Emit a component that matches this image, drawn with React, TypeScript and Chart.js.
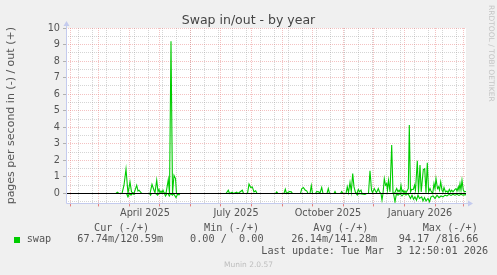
import React, { useEffect, useRef } from 'react';
import { Chart, registerables } from 'chart.js';

Chart.register(...registerables);

// x values are days counted from 1 Feb 2025 (00:00); the graph spans the last 400 days
const X_MIN = -4.5;
const X_MAX = 395.5;
const Y_MIN = -0.6;
const Y_MAX = 10;

// swap out (+), pages per second
const outDays = [
  -4.5, 45.5, 46.8, 48.5, 51.5, 53.5, 55.5, 57.5, 59.5, 61, 63.5, 66.2, 67.5, 68.5, 70.5, 71.5,
  79.5, 81.5, 83.5, 84.5, 86.2, 87.5, 88.5, 89.5, 90.5, 91.5, 92.5, 93.5, 95.5, 97.8, 99, 100.5,
  102, 103.5, 105, 106, 155.5, 157.8, 159, 161.8, 163, 166.2, 167.5, 171.8, 173, 177, 178.5,
  180.2, 181.8, 183.5, 185.2, 186.5, 205, 206.2, 207.5, 213.5, 214.8, 216, 218.8, 220.8, 222,
  230, 231.2, 232.8, 234.8, 236.2, 237.5, 239.5, 240.8, 242, 245, 246.2, 248.2, 249.5, 251.2,
  252.5, 256.5, 257.8, 259, 263.5, 264.5, 265.5, 270, 271.2, 272.5, 275.5, 276.8, 278, 279.5,
  280.8, 282.2, 283.5, 285, 286.5, 287.8, 289, 290.5, 291.5, 298, 299.5, 301, 302, 303.8, 305,
  306, 307.8, 309, 310.5, 312.5, 313.8, 315, 316.2, 317, 318, 319.5, 321.2, 322.5, 324, 326.2,
  327.5, 328.5, 329.5, 330.5, 331.5, 332.5, 333.5, 334.5, 335.5, 337.8, 338.8, 340, 341.2,
  342.8, 344, 345, 346.8, 348, 349.5, 350.7, 352.8, 354.2, 355.5, 356.8, 358.1, 359.5, 360.5,
  362.2, 363.5, 364.5, 365.5, 367, 368, 369, 370.2, 371.5, 372.5, 373.5, 375, 376.5, 377.5,
  378.8, 380, 381.2, 382.5, 384.5, 385.5, 386.5, 387.8, 388.5, 389.5, 390.5, 391.5, 392.8, 394,
  395.5,
];
const outValues = [
  0, 0, 0.08, 0, 0, 0.5, 1.47, 0, 0.7, 0.1, 0, 0.5, 0.15, 0.2, 0.05, 0,
  0, 0.55, 0.2, 0.05, 0.8, 0.1, 0.25, 0.05, 0.15, 0.05, 0.2, 0.05, 0, 0.85, 0, 9.2,
  0, 1.1, 0.9, 0, 0, 0.2, 0, 0.08, 0, 0.08, 0, 0.2, 0, 0, 0.57,
  0.36, 0.4, 0.1, 0.16, 0, 0, 0.1, 0, 0, 0.26, 0, 0.12, 0.1, 0,
  0, 0.28, 0.36, 0.2, 0.16, 0, 0, 0.48, 0, 0, 0.12, 0.1, 0.02, 0.36,
  0, 0, 0.3, 0, 0, 0.12, 0, 0, 0.12, 0, 0, 0.4, 0.05, 0.67,
  0.1, 1.2, 0.4, 0.05, 0, 0.24, 0.1, 0.2, 0, 0, 1.37, 0.2, 0.05, 0.3, 0.15,
  0.05, 0.3, 0.1, 0, 0, 0.9, 0.5, 0.6, 0.2, 0.8, 0.1, 2.93, 0.05, 0, 0.3,
  0.1, 0.2, 0.1, 0.5, 0.1, 0.2, 0.05, 0.15, 0.05, 0.3, 4.14, 0.1, 0.25,
  0.24, 0.5, 0.2, 1.98, 0.05, 1.72, 0.1, 1.45, 1.5, 0.05, 1.86, 0.1, 0.3, 0.15,
  0, 0.6, 0.3, 0.9, 0.3, 0.4, 0.2, 0.7, 0.2, 0.1, 0.36, 0.1, 0.15, 0.05,
  0.25, 0.1, 0.2, 0.1, 0.25, 0.3, 0.15, 0.4, 0.2, 0.6, 0.2, 0.8, 0.2, 0.1,
  0.12,
];

// swap in (-), pages per second, drawn below zero
const inDays = [
  -4.5, 56, 57.5, 59, 60.5, 62, 63.5, 64.5, 79, 80, 81, 85.5, 87, 88.5, 94, 95, 96.5, 97.5,
  98.8, 100, 102, 103, 105.5, 107, 108.5, 109.5, 285.5, 286.8, 288, 294.5, 296, 310.5, 311.5,
  312.5, 323, 324.5, 326, 327.5, 329.5, 331.5, 333.5, 335.5, 337.5, 340, 341.5, 343, 344.5,
  346, 347.5, 349, 351.2, 352.5, 354, 355.5, 357.5, 359, 360.5, 362.5, 364.5, 366.5, 368.5,
  370.5, 372.5, 374.5, 376.5, 378.5, 380.5, 382.5, 384.5, 386.5, 388.5, 390.5, 392.5, 395.5,
];
const inValues = [
  0, 0, -0.2, 0, -0.1, 0, -0.05, 0, 0, -0.1, 0, 0, -0.1, 0, 0, -0.15, 0, 0,
  -0.15, 0, -0.1, 0, -0.25, -0.05, -0.08, 0, 0, -0.1, 0, -0.05, 0, 0, -0.4,
  0, 0, -0.5, 0, -0.1, 0, -0.15, 0, -0.1, 0, -0.3, -0.1, -0.35, -0.2,
  -0.4, -0.1, -0.3, -0.2, -0.45, -0.25, -0.45, -0.3, -0.5, -0.2, -0.15, -0.3, -0.1, -0.25,
  -0.15, -0.2, -0.1, -0.15, -0.05, -0.12, -0.05, -0.1, -0.05, -0.12, -0.05, -0.1, -0.07,
];

// axis ticks
const monthStartDays = [0, 28, 59, 89, 120, 150, 181, 212, 242, 273, 303, 334, 365, 393];
const minorGridDays = [
  7.5, 21.5, 35.5, 49.5, 63.5, 77.5, 91.5, 105.5, 119.5, 133.5, 147.5, 161.5, 175.5, 189.5,
  203.5, 217.5, 231.5, 245.5, 259.5, 273.5, 287.5, 301.5, 315.5, 329.5, 343.5, 357.5, 371.5,
  385.5,
];
const labelDays = [74.5, 165.5, 257.5, 349.5];
const labelTexts = ['April 2025', 'July 2025', 'October 2025', 'January 2026'];
const yTickValues = [
  -0.5, 0, 0.5, 1, 1.5, 2, 2.5, 3, 3.5, 4, 4.5, 5, 5.5, 6, 6.5, 7, 7.5, 8, 8.5, 9, 9.5, 10,
];

const GREEN = '#00cc00';
const MAJOR = 'rgba(230, 120, 120, 0.45)';
const MINOR = 'rgba(150, 150, 150, 0.4)';
const AXIS = '#c4cbee';
const TEXT = '#555555';
const FONT = "'DejaVu Sans', sans-serif";
const MONO = "'DejaVu Sans Mono', monospace";

const frame = {
  id: 'muninFrame',
  beforeDraw(chart: any) {
    const { ctx, chartArea: a } = chart;
    ctx.save();
    ctx.fillStyle = '#ffffff';
    ctx.fillRect(a.left, a.top, a.right - a.left, a.bottom - a.top);
    ctx.restore();
  },
  afterDraw(chart: any) {
    const { ctx, chartArea: a } = chart;
    ctx.save();
    ctx.strokeStyle = AXIS;
    ctx.fillStyle = AXIS;
    ctx.lineWidth = 1;
    const lx = Math.round(a.left) + 0.5;
    const by = Math.round(a.bottom) + 0.5;
    ctx.beginPath();
    ctx.moveTo(lx, by);
    ctx.lineTo(lx, a.top - 3);
    ctx.moveTo(lx, by);
    ctx.lineTo(a.right + 3, by);
    ctx.stroke();
    ctx.beginPath();
    ctx.moveTo(lx - 3, a.top - 2);
    ctx.lineTo(lx + 3, a.top - 2);
    ctx.lineTo(lx, a.top - 7);
    ctx.closePath();
    ctx.fill();
    ctx.beginPath();
    ctx.moveTo(a.right + 2, by - 3);
    ctx.lineTo(a.right + 2, by + 3);
    ctx.lineTo(a.right + 7, by);
    ctx.closePath();
    ctx.fill();
    ctx.restore();
  },
};

const isMonth = (v: number) => monthStartDays.includes(v);
const isMinor = (v: number) => minorGridDays.includes(v);

export default function App() {
  const ref = useRef<HTMLCanvasElement>(null);

  useEffect(() => {
    if (!ref.current) return;
    const outData = outDays.map((d, i) => ({ x: d, y: outValues[i] }));
    const inData = inDays.map((d, i) => ({ x: d, y: inValues[i] }));
    const chart = new Chart(ref.current, {
      type: 'line',
      data: {
        datasets: [
          {
            label: 'zero',
            data: [
              { x: X_MIN, y: 0 },
              { x: X_MAX, y: 0 },
            ],
            borderColor: '#000000',
            borderWidth: 1,
            pointRadius: 0,
          },
          {
            label: 'swap out',
            data: outData,
            borderColor: GREEN,
            borderWidth: 1.1,
            pointRadius: 0,
            tension: 0,
          },
          {
            label: 'swap in',
            data: inData,
            borderColor: GREEN,
            borderWidth: 1.1,
            pointRadius: 0,
            tension: 0,
          },
        ],
      },
      options: {
        animation: false,
        responsive: false,
        devicePixelRatio: 1,
        layout: { padding: { left: 0, right: 31, top: 28, bottom: 51.57 } },
        plugins: {
          legend: { display: false },
          tooltip: { enabled: false },
          title: { display: false },
        },
        scales: {
          x: {
            type: 'linear',
            min: X_MIN,
            max: X_MAX,
            afterFit: (s: any) => {
              s.height = 20;
            },
            afterBuildTicks: (s: any) => {
              const vals = [...monthStartDays, ...minorGridDays, ...labelDays].sort((a, b) => a - b);
              s.ticks = vals.map((v) => ({ value: v }));
            },
            ticks: {
              autoSkip: false,
              maxRotation: 0,
              minRotation: 0,
              padding: 1,
              color: TEXT,
              font: { family: FONT, size: 9.7 },
              callback: (v: any) => {
                const i = labelDays.indexOf(Number(v));
                return i >= 0 ? labelTexts[i] : '';
              },
            },
            grid: {
              lineWidth: 1,
              color: (c: any) => {
                const v = c.tick ? c.tick.value : NaN;
                if (isMonth(v)) return MAJOR;
                if (isMinor(v)) return MINOR;
                return 'rgba(0,0,0,0)';
              },
              drawTicks: true,
              tickLength: 3,
              tickColor: (c: any) => {
                const v = c.tick ? c.tick.value : NaN;
                return isMonth(v) ? 'rgba(220, 80, 80, 0.7)' : 'rgba(0,0,0,0)';
              },
            },
            border: { display: false, dash: [1, 1] },
          },
          y: {
            type: 'linear',
            min: Y_MIN,
            max: Y_MAX,
            afterFit: (s: any) => {
              s.width = 66;
            },
            afterBuildTicks: (s: any) => {
              s.ticks = yTickValues.map((v) => ({ value: v }));
            },
            ticks: {
              autoSkip: false,
              padding: 3,
              color: TEXT,
              font: { family: FONT, size: 9.7 },
              callback: (v: any) => (Number.isInteger(Number(v)) ? String(v) : ''),
            },
            title: {
              display: true,
              text: 'pages per second in (-) / out (+)',
              color: TEXT,
              font: { family: FONT, size: 11 },
              padding: { top: 5, bottom: 0 },
            },
            grid: {
              lineWidth: 1,
              color: (c: any) => {
                const v = c.tick ? c.tick.value : NaN;
                return Number.isInteger(v) ? MAJOR : MINOR;
              },
              drawTicks: true,
              tickLength: 3,
              tickColor: (c: any) => {
                const v = c.tick ? c.tick.value : NaN;
                return Number.isInteger(v) ? 'rgba(150,150,150,0.7)' : 'rgba(0,0,0,0)';
              },
            },
            border: { display: false, dash: [1, 1] },
          },
        },
      },
      plugins: [frame],
    } as any);
    return () => chart.destroy();
  }, []);

  const mono: React.CSSProperties = {
    position: 'absolute',
    fontFamily: MONO,
    fontSize: '10.2px',
    lineHeight: '12px',
    color: TEXT,
    whiteSpace: 'pre',
  };

  return (
    <div
      style={{
        position: 'fixed',
        left: 0,
        top: 0,
        width: 497,
        height: 275,
        background: '#f0f0f0',
        overflow: 'hidden',
      }}
    >
      <canvas
        ref={ref}
        width={497}
        height={275}
        style={{ position: 'absolute', left: 0, top: 0, width: 497, height: 275 }}
      />
      <div
        style={{
          position: 'absolute',
          left: 0,
          width: 497,
          top: 12,
          textAlign: 'center',
          fontFamily: FONT,
          fontSize: '12.5px',
          lineHeight: '15px',
          color: '#444',
          whiteSpace: 'pre',
        }}
      >
        Swap in/out - by year
      </div>
      <div
        style={{
          position: 'absolute',
          left: 486.5,
          top: 5,
          writingMode: 'vertical-rl',
          fontFamily: FONT,
          fontSize: '7.5px',
          lineHeight: '9px',
          color: '#c4c4c4',
          whiteSpace: 'pre',
        }}
      >
        RRDTOOL / TOBI OETIKER
      </div>

      <div style={{ ...mono, left: 94, top: 221.5 }}>Cur (-/+)</div>
      <div style={{ ...mono, left: 204, top: 221.5 }}>Min (-/+)</div>
      <div style={{ ...mono, left: 313.3, top: 221.5 }}>Avg (-/+)</div>
      <div style={{ ...mono, left: 422.7, top: 221.5 }}>Max (-/+)</div>

      <div
        style={{ position: 'absolute', left: 14, top: 237, width: 6, height: 6, background: GREEN }}
      />
      <div style={{ ...mono, left: 26.7, top: 233 }}>swap</div>
      <div style={{ ...mono, left: 77.3, top: 233 }}>67.74m/120.59m</div>
      <div style={{ ...mono, left: 190, top: 233 }}>0.00 /  0.00</div>
      <div style={{ ...mono, left: 291.3, top: 233 }}>26.14m/141.28m</div>
      <div style={{ ...mono, left: 398.7, top: 233 }}>94.17 /816.66</div>

      <div style={{ ...mono, left: 261.3, top: 244.5 }}>Last update: Tue Mar  3 12:50:01 2026</div>

      <div
        style={{
          position: 'absolute',
          left: 0,
          width: 497,
          top: 260,
          textAlign: 'center',
          fontFamily: FONT,
          fontSize: '7.5px',
          lineHeight: '9px',
          color: '#bdbdbd',
        }}
      >
        Munin 2.0.57
      </div>
    </div>
  );
}
